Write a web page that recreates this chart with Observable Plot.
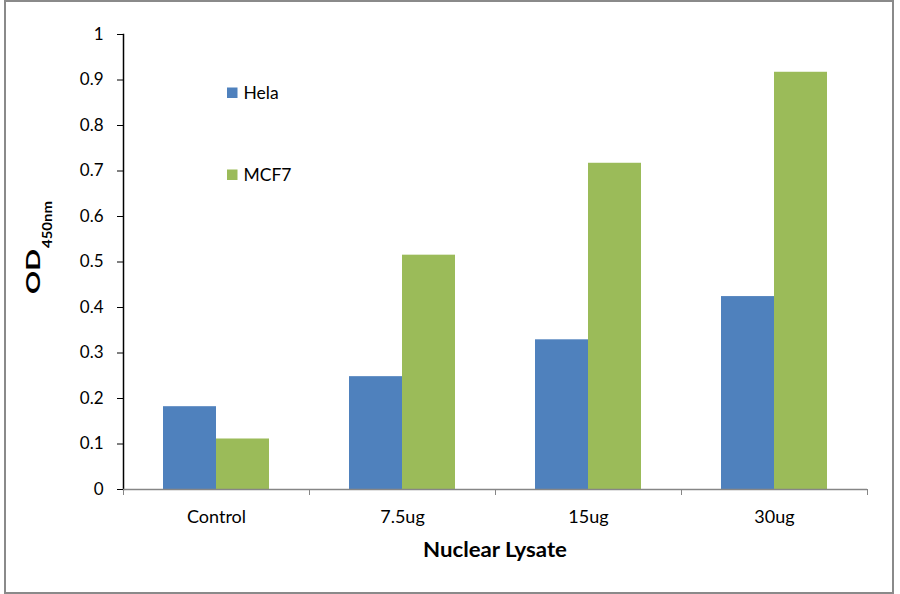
<!DOCTYPE html>
<html>
<head>
<meta charset="utf-8">
<script src="https://cdn.jsdelivr.net/npm/d3@7"></script>
<script src="https://cdn.jsdelivr.net/npm/@observablehq/plot@0.6"></script>
<style>
  html, body { margin: 0; padding: 0; background: #fff; }
  #wrap { position: relative; width: 900px; height: 594px; overflow: hidden; font-family: Lato, "Open Sans", sans-serif; }
  #border { position: absolute; left: 4px; top: 0; width: 890px; height: 594px; box-sizing: border-box; border: 2px solid #8a8a8a; pointer-events: none; }
  #chart { position: absolute; left: 0; top: 0; }
  #chart g[aria-label="y-axis tick"] { stroke: #868686; }
  #chart g[aria-label="frame"] { stroke: #868686; stroke-width: 1.5; }
</style>
</head>
<body>
<div id="wrap">
  <div id="chart"></div>
  <div id="border"></div>
</div>
<script>
// ---- data ----
const categories = ["Control", "7.5ug", "15ug", "30ug"];
const series = ["Hela", "MCF7"];
const helaValues = [0.182, 0.248, 0.329, 0.424];
const mcf7Values = [0.111, 0.515, 0.717, 0.917];
const yTicks = [0, 0.1, 0.2, 0.3, 0.4, 0.5, 0.6, 0.7, 0.8, 0.9, 1];
const seriesColors = ["#4F81BD", "#9BBB59"];
const xLabel = "Nuclear Lysate";
const yLabelMain = "OD";
const yLabelSub = "450nm";

const data = categories.flatMap((c, i) => [
  {category: c, series: series[0], value: helaValues[i]},
  {category: c, series: series[1], value: mcf7Values[i]}
]);

// ---- layout ----
const W = 900, H = 594;
const mL = 123, mR = 33, mT = 34, mB = 105;
const halfBand = (W - mL - mR) / categories.length / 2;
const FONT = "Lato, 'Open Sans', sans-serif";

const chart = Plot.plot({
  width: W,
  height: H,
  marginLeft: mL,
  marginRight: mR,
  marginTop: mT,
  marginBottom: mB,
  style: {fontFamily: FONT, fontSize: "17px", color: "#000", background: "transparent", overflow: "visible"},
  fx: {domain: categories, paddingInner: 0, paddingOuter: 0, label: null},
  x: {domain: series, paddingInner: 0, paddingOuter: 0.75, axis: null},
  y: {domain: [0, 1], ticks: yTicks, tickFormat: d => String(+d.toFixed(1)), tickSize: 6, tickPadding: 14, line: true, label: null},
  color: {domain: series, range: seriesColors},
  marks: [
    Plot.barY(data, {fx: "category", x: "series", y: "value", fill: "series"}),
    Plot.ruleY([0], {stroke: "#868686", strokeWidth: 1.5}),
    Plot.axisFx({anchor: "bottom", tickSize: 0, tickPadding: 21, fontSize: 18, label: null}),
    Plot.axisFx({anchor: "bottom", tickSize: 6, tickFormat: () => "", dx: -halfBand, stroke: "#868686", label: null}),
    Plot.axisFx({anchor: "bottom", tickSize: 6, tickFormat: () => "", dx: halfBand, stroke: "#868686", label: null})
  ]
});
document.getElementById("chart").appendChild(chart);

// ---- axis titles (real text) ----
const svg = d3.select(chart);
svg.append("text")
  .attr("x", (mL + W - mR) / 2)
  .attr("y", 557)
  .attr("text-anchor", "middle")
  .attr("font-family", FONT)
  .attr("font-weight", "bold")
  .attr("font-size", 20)
  .attr("textLength", 144)
  .attr("lengthAdjust", "spacingAndGlyphs")
  .attr("fill", "#000")
  .text(xLabel);

const yl = svg.append("g").attr("transform", "translate(39.5,294) rotate(-90)")
  .attr("font-family", FONT)
  .attr("font-weight", "bold")
  .attr("text-anchor", "start")
  .attr("fill", "#000");
yl.append("text")
  .attr("x", 0).attr("y", 0)
  .attr("font-size", 19)
  .attr("textLength", 45)
  .attr("lengthAdjust", "spacingAndGlyphs")
  .text(yLabelMain);
yl.append("text")
  .attr("x", 46).attr("y", 12.3)
  .attr("font-size", 14)
  .attr("textLength", 47)
  .attr("lengthAdjust", "spacingAndGlyphs")
  .text(yLabelSub);

// ---- legend (inside plot area) ----
const legendBaselines = [98.5, 180.5];
const lg = svg.append("g").attr("font-family", FONT).attr("font-size", 17.5)
  .attr("text-anchor", "start").attr("fill", "#000");
series.forEach((s, i) => {
  lg.append("rect")
    .attr("x", 227).attr("y", legendBaselines[i] - 11)
    .attr("width", 10.5).attr("height", 10.5)
    .attr("fill", seriesColors[i]);
  lg.append("text")
    .attr("x", 243.5).attr("y", legendBaselines[i])
    .text(s);
});
</script>
</body>
</html>
